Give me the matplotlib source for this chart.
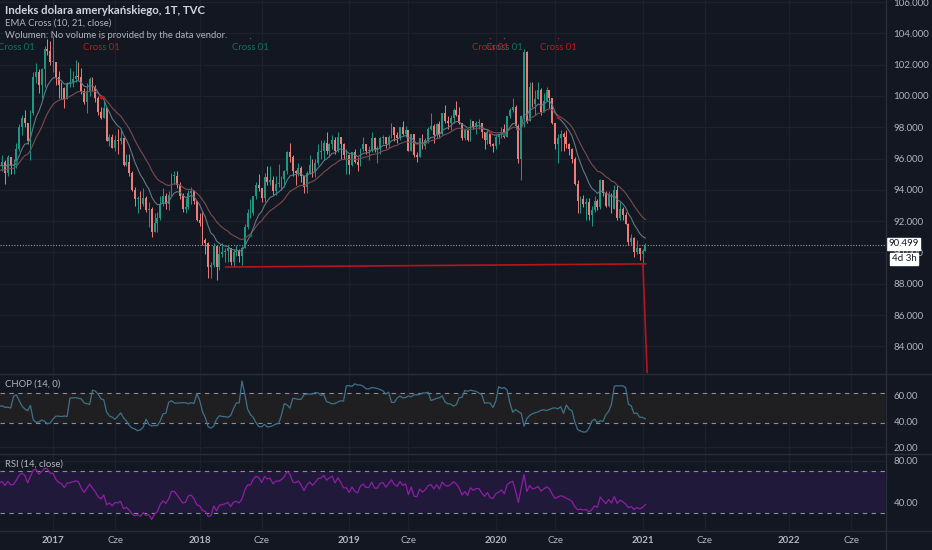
import numpy as np
import pandas as pd
import matplotlib
matplotlib.use('Agg')
import matplotlib.pyplot as plt
import matplotlib.dates as mdates
import matplotlib.transforms as mtrans
from matplotlib.lines import Line2D

plt.rcParams['font.family'] = ['Lato', 'DejaVu Sans']

# DXY (TVC), weekly candles, week starts on Monday.
# the first 20 weeks (Apr-Aug 2016) sit left of the visible window, only for EMA/RSI/CHOP warm-up
start_week = '2016-04-04'

opens = [
    94.6, 94.1, 94.6, 95.1, 93.1, 93.9, 94.6, 95.3, 95.5, 94.0, 94.6, 93.7, 95.5, 95.6, 96.3, 96.6, 97.5, 95.5, 96.2, 95.7,
    94.5, 95.5, 95.8, 95.1, 96.1, 95.5, 95.6, 96.6, 98.0, 98.6, 98.3, 97.1, 98.9, 101.2, 101.5, 100.7, 101.7, 103.0, 102.9,
    102.2, 102.2, 101.2, 100.7, 100.5, 99.8, 100.8, 100.9, 101.1, 101.3, 101.2, 100.3, 99.6, 100.3, 101.1, 100.5, 99.9, 99.0,
    98.6, 99.2, 97.1, 97.4, 96.7, 97.2, 97.1, 97.3, 95.6, 95.8, 95.1, 94.0, 93.4, 93.5, 93.1, 93.5, 92.7, 92.8, 91.3, 91.9,
    92.2, 93.1, 93.6, 93.1, 93.7, 94.9, 94.9, 94.3, 93.6, 92.8, 92.9, 93.8, 93.9, 93.3,
    92.1, 91.9, 90.8, 90.6, 89.1, 89.2, 90.4, 89.1, 89.9, 90.0, 90.1, 90.3, 89.4, 90.0, 90.1, 89.8, 90.3, 91.6, 92.5, 92.5,
    93.6, 94.3, 94.1, 93.5, 94.8, 94.5, 94.6, 93.9, 94.4, 94.4, 94.7, 95.2, 96.4, 96.1, 95.2, 95.1, 95.4, 94.9, 94.2, 95.1,
    95.6, 95.2, 95.7, 96.4, 96.5, 97.0, 96.5, 96.9, 97.2, 96.5, 97.4, 96.9, 96.2,
    96.2, 95.6, 96.4, 95.8, 95.6, 96.6, 96.9, 96.5, 96.5, 97.3, 96.6, 96.6, 97.3, 97.4, 96.9, 97.4, 98.0, 97.5, 97.3, 98.0,
    97.6, 97.8, 96.5, 97.6, 96.2, 96.1, 97.3, 96.8, 97.2, 97.9, 98.1, 97.5, 98.2, 97.6, 98.9, 98.4, 98.3, 98.6, 99.1, 98.8,
    98.3, 97.3, 97.8, 97.2, 98.4, 98.0, 98.3, 98.3, 97.7, 97.2, 97.7, 96.9,
    96.8, 97.4, 97.6, 97.9, 97.4, 98.7, 99.1, 99.3, 98.1, 96.0, 98.7, 102.8, 98.4, 100.6, 99.5, 99.8, 100.4, 99.0, 99.7, 100.4,
    99.9, 98.3, 96.9, 97.3, 97.6, 97.4, 96.9, 96.6, 96.0, 94.4, 93.3, 93.4, 93.1, 93.2, 92.4, 92.7, 93.3, 92.9, 94.6, 93.8,
    93.0, 93.7, 92.8, 94.0, 92.2, 92.8, 92.4, 91.8, 90.7, 90.9, 90.0, 90.3,
    89.9, 90.1,
]
highs = [
    95.0, 94.9, 95.2, 95.2, 94.0, 94.8, 95.5, 95.8, 96.0, 94.6, 95.2, 96.7, 96.2, 96.6, 96.8, 97.6, 97.6, 96.3, 96.3, 95.8,
    95.9, 96.2, 95.9, 96.2, 96.1, 96.0, 97.0, 98.2, 98.8, 99.1, 98.3, 99.1, 101.5, 102.1, 101.7, 101.8, 103.2, 103.65, 103.5,
    103.8, 102.2, 101.6, 100.9, 100.6, 100.9, 101.8, 101.6, 102.3, 102.2, 101.8, 100.5, 100.8, 101.2, 101.2, 100.7, 100.0,
    99.3, 99.7, 99.3, 97.6, 97.6, 97.5, 97.9, 97.8, 97.4, 96.3, 96.3, 95.2, 94.2, 93.6, 93.9, 94.1, 93.6, 93.2, 92.9, 92.5,
    92.6, 93.6, 94.1, 93.8, 93.9, 95.1, 95.2, 95.2, 94.5, 93.8, 93.5, 94.0, 94.2, 94.0, 93.3,
    92.5, 92.6, 90.9, 90.7, 89.4, 90.6, 90.4, 90.4, 90.6, 90.3, 90.4, 90.3, 90.2, 90.5, 90.2, 90.4, 91.8, 92.8, 93.4, 93.6,
    94.5, 95.0, 94.1, 95.1, 95.5, 95.5, 94.9, 94.9, 95.65, 94.9, 95.3, 96.5, 96.99, 96.2, 95.3, 95.7, 95.5, 94.9, 95.2, 96.2,
    96.0, 96.0, 96.9, 97.2, 97.2, 97.7, 97.0, 97.5, 97.4, 97.7, 97.4, 97.0, 96.6,
    96.3, 96.4, 96.6, 96.1, 96.7, 97.4, 96.9, 96.8, 97.7, 97.4, 96.8, 97.4, 97.5, 97.4, 97.5, 98.3, 98.0, 97.7, 98.0, 98.4,
    98.1, 97.8, 97.6, 97.6, 96.4, 97.3, 97.6, 97.3, 98.0, 98.9, 98.2, 98.3, 98.4, 98.9, 99.4, 98.7, 98.8, 99.2, 99.7, 99.3,
    98.3, 97.9, 97.9, 98.5, 98.4, 98.4, 98.5, 98.3, 97.7, 97.8, 97.7, 97.0,
    97.6, 97.6, 98.0, 98.2, 98.7, 99.2, 99.9, 99.4, 98.2, 98.8, 103.0, 102.9, 100.9, 100.9, 100.4, 100.9, 100.5, 100.2, 100.6, 100.4,
    99.9, 98.3, 97.6, 97.8, 97.7, 97.8, 97.0, 96.7, 96.1, 94.6, 93.6, 93.7, 93.5, 93.5, 93.0, 93.6, 93.4, 94.7, 94.6, 93.9,
    93.9, 93.8, 94.3, 94.3, 93.2, 92.9, 92.6, 91.9, 91.2, 91.0, 90.8, 90.3,
    90.2, 90.6,
]
lows = [
    93.9, 93.8, 93.9, 93.0, 91.9, 93.6, 94.4, 95.0, 93.8, 93.4, 93.7, 91.9, 95.2, 95.5, 95.9, 96.5, 95.5, 95.2, 95.5, 93.9,
    94.3, 95.2, 94.4, 94.9, 95.0, 95.0, 95.4, 96.5, 97.5, 98.0, 96.9, 95.9, 98.8, 100.8, 100.2, 99.9, 100.6, 102.6, 102.0,
    101.5, 100.7, 99.9, 99.8, 99.2, 99.8, 100.6, 100.6, 100.9, 101.0, 100.1, 99.5, 98.9, 100.0, 100.3, 99.6, 98.8,
    98.5, 98.6, 97.1, 96.8, 96.7, 96.5, 96.3, 96.9, 95.5, 95.5, 94.9, 93.9, 93.0, 92.5, 92.8, 93.0, 92.6, 91.6, 91.0, 91.3,
    91.3, 92.1, 93.0, 92.8, 92.7, 93.6, 94.4, 94.1, 93.4, 92.6, 92.5, 92.8, 93.1, 93.1, 92.0,
    91.7, 90.5, 89.9, 88.4, 88.4, 89.1, 88.25, 88.9, 89.7, 89.4, 89.4, 89.2, 89.1, 89.8, 89.4, 89.2, 90.3, 91.5, 92.2, 92.4,
    93.4, 93.9, 93.2, 93.2, 94.3, 94.3, 93.7, 93.7, 94.2, 94.0, 94.2, 95.0, 95.8, 94.9, 94.3, 94.9, 94.5, 93.8, 93.8, 95.0,
    94.8, 94.8, 95.6, 96.0, 95.9, 96.3, 96.1, 96.6, 96.3, 96.4, 96.0, 96.0, 95.0,
    95.0, 95.5, 95.7, 95.2, 95.5, 96.5, 96.3, 95.9, 96.4, 96.4, 95.7, 96.3, 96.9, 96.7, 96.7, 97.3, 97.1, 97.0, 97.2, 97.5,
    97.4, 96.5, 96.5, 96.1, 95.8, 96.1, 96.6, 96.6, 97.0, 97.8, 97.0, 97.3, 97.4, 97.5, 98.3, 97.9, 97.8, 98.3, 98.7, 98.2,
    97.2, 97.2, 97.1, 97.1, 97.9, 97.6, 97.9, 97.3, 96.6, 96.9, 96.8, 96.4,
    96.6, 96.9, 97.3, 97.3, 97.4, 98.6, 99.0, 97.9, 95.7, 94.6, 98.0, 98.3, 98.4, 99.3, 98.8, 99.8, 98.8, 99.0, 99.7, 99.2,
    98.2, 96.6, 95.7, 96.5, 96.5, 96.7, 96.2, 95.7, 94.3, 92.5, 92.5, 92.9, 92.1, 92.1, 91.7, 92.6, 92.7, 92.8, 93.6, 92.9,
    92.9, 92.5, 92.8, 92.1, 92.1, 92.1, 91.8, 90.5, 90.5, 89.7, 89.9, 89.5,
    89.2, 90.1,
]
closes = [
    94.1, 94.6, 95.1, 93.1, 93.9, 94.6, 95.3, 95.5, 94.0, 94.6, 93.7, 95.5, 95.6, 96.3, 96.6, 97.5, 95.5, 96.2, 95.7, 94.5,
    95.5, 95.8, 95.1, 96.1, 95.5, 95.6, 96.6, 98.0, 98.6, 98.3, 97.1, 98.9, 101.2, 101.5, 100.7, 101.7, 103.0, 102.9, 102.2,
    102.2, 101.2, 100.7, 100.5, 99.8, 100.8, 100.9, 101.1, 101.3, 101.2, 100.3, 99.6, 100.3, 101.1, 100.5, 99.9, 99.0,
    98.6, 99.2, 97.1, 97.4, 96.7, 97.2, 97.1, 97.3, 95.6, 95.8, 95.1, 94.0, 93.4, 93.5, 93.1, 93.5, 92.7, 92.8, 91.3, 91.9,
    92.2, 93.1, 93.6, 93.1, 93.7, 94.9, 94.9, 94.3, 93.6, 92.8, 92.9, 93.8, 93.9, 93.3, 92.1,
    91.9, 90.8, 90.6, 89.1, 89.2, 90.4, 89.1, 89.9, 90.0, 90.1, 90.3, 89.4, 90.0, 90.1, 89.8, 90.3, 91.6, 92.5, 92.5, 93.6,
    94.3, 94.1, 93.5, 94.8, 94.5, 94.6, 93.9, 94.4, 94.4, 94.7, 95.2, 96.4, 96.1, 95.2, 95.1, 95.4, 94.9, 94.2, 95.1, 95.6,
    95.2, 95.7, 96.4, 96.5, 97.0, 96.5, 96.9, 97.2, 96.5, 97.4, 96.9, 96.2, 96.2,
    95.6, 96.4, 95.8, 95.6, 96.6, 96.9, 96.5, 96.5, 97.3, 96.6, 96.6, 97.3, 97.4, 96.9, 97.4, 98.0, 97.5, 97.3, 98.0, 97.6,
    97.8, 96.5, 97.6, 96.2, 96.1, 97.3, 96.8, 97.2, 97.9, 98.1, 97.5, 98.2, 97.6, 98.9, 98.4, 98.3, 98.6, 99.1, 98.8, 98.3,
    97.3, 97.8, 97.2, 98.4, 98.0, 98.3, 98.3, 97.7, 97.2, 97.7, 96.9, 96.8,
    97.4, 97.6, 97.9, 97.4, 98.7, 99.1, 99.3, 98.1, 96.0, 98.7, 102.8, 98.4, 100.6, 99.5, 99.8, 100.4, 99.0, 99.7, 100.4, 99.9,
    98.3, 96.9, 97.3, 97.6, 97.4, 96.9, 96.6, 96.0, 94.4, 93.3, 93.4, 93.1, 93.2, 92.4, 92.7, 93.3, 92.9, 94.6, 93.8, 93.0,
    93.7, 92.8, 94.0, 92.2, 92.8, 92.4, 91.8, 90.7, 90.9, 90.0, 90.3, 89.9,
    90.1, 90.499,
]
time_left = '4d 3h'

# EMA Cross signals (week of the cross, True = fast EMA crosses up)
cross_weeks = ['2016-10-03', '2017-05-01', '2018-05-07', '2019-12-23', '2020-01-27', '2020-06-08']
cross_up = [True, False, True, False, True, False]

# hand drawn lines on the chart (date, price)
support_dates = ['2018-03-07', '2021-01-12']
support_prices = [89.07, 89.27]
drop_dates = ['2021-01-05', '2021-01-16']
drop_prices = [89.27, 82.0]

# time axis labels (first weekly bar of January / June)
tick_weeks = ['2017-01-02', '2017-06-05', '2018-01-01', '2018-06-04', '2019-01-07', '2019-06-03',
              '2020-01-06', '2020-06-01', '2021-01-04', '2021-06-07', '2022-01-03', '2022-06-06']
tick_names = ['2017', 'Cze', '2018', 'Cze', '2019', 'Cze', '2020', 'Cze', '2021', 'Cze', '2022', 'Cze']

price_ticks = [84, 86, 88, 90, 92, 94, 96, 98, 100, 102, 104, 106]
chop_ticks = [20, 40, 60]
rsi_ticks = [40, 80]

# colours
bg = '#131722'
grid_c = '#1d212c'
sep_c = '#2a2e39'
txt_c = '#b2b5be'
up_c = '#1f9783'
dn_c = '#ee7c78'

o = np.array(opens)
h = np.array(highs)
l = np.array(lows)
c = np.array(closes)
dates = pd.date_range(start_week, periods=len(c), freq='7D')
xd = mdates.date2num(dates)

# indicators
cs = pd.Series(c)
ema_fast = cs.ewm(span=10, adjust=False).mean().values
ema_slow = cs.ewm(span=21, adjust=False).mean().values

delta = cs.diff()
gain = delta.clip(lower=0).ewm(alpha=1 / 14, adjust=False).mean()
loss = (-delta.clip(upper=0)).ewm(alpha=1 / 14, adjust=False).mean()
rsi = (100 - 100 / (1 + gain / loss)).values

prev_c = cs.shift(1)
tr = pd.concat([pd.Series(h - l), (pd.Series(h) - prev_c).abs(), (pd.Series(l) - prev_c).abs()], axis=1).max(axis=1)
rng = pd.Series(h).rolling(14).max() - pd.Series(l).rolling(14).min()
chop = (100 * np.log10(tr.rolling(14).sum() / rng) / np.log10(14)).values

# figure, pixel layout of the TradingView screenshot
W, H = 932, 550
fig = plt.figure(figsize=(W / 100, H / 100), dpi=100, facecolor=bg)


def pane(top, bottom):
    return fig.add_axes([0, 1 - bottom / H, 885 / W, (bottom - top) / H])


ax_p = pane(0, 373)
ax_c = pane(374, 453)
ax_r = pane(454, 530)

d0 = mdates.date2num(pd.Timestamp('2017-01-02'))
d1 = mdates.date2num(pd.Timestamp('2021-01-04'))
ppd = (642.5 - 53) / (d1 - d0)
x_left = d0 - 53 / ppd
x_right = x_left + 885 / ppd
tick_x = mdates.date2num(pd.to_datetime(tick_weeks))

for ax in (ax_p, ax_c, ax_r):
    ax.set_facecolor(bg)
    for s in ax.spines.values():
        s.set_visible(False)
    ax.set_xlim(x_left, x_right)
    ax.set_xticks(tick_x)
    ax.yaxis.tick_right()
    ax.tick_params(axis='y', length=0, pad=6, labelsize=7.0, labelcolor=txt_c)
    ax.tick_params(axis='x', length=0)
    ax.grid(True, color=grid_c, lw=1)
    ax.set_axisbelow(True)

ax_p.tick_params(axis='x', labelbottom=False)
ax_c.tick_params(axis='x', labelbottom=False)

# price pane
ax_p.set_ylim(82.30, 106.13)
ax_p.set_yticks(price_ticks)
ax_p.set_yticklabels([f'{t:.3f}' for t in price_ticks])

col = np.where(c >= o, up_c, dn_c)
ax_p.vlines(xd, l, h, colors=col, lw=0.7, zorder=2)
body = np.maximum(np.abs(c - o), 0.05)
ax_p.bar(xd, body, bottom=np.minimum(o, c), width=4.6, color=col, linewidth=0, zorder=3)

ax_p.plot(xd, ema_slow, color='#7a4c50', lw=0.8, zorder=4)
ax_p.plot(xd, ema_fast, color='#5f7a84', lw=0.8, zorder=4)

# cross markers and labels
lab_tr = mtrans.blended_transform_factory(ax_p.transData, ax_p.transAxes)
for wk, is_up in zip(cross_weeks, cross_up):
    i = int(np.argmin(np.abs(xd - mdates.date2num(pd.Timestamp(wk)))))
    cc = '#17705f' if is_up else '#c2161e'
    ax_p.plot(xd[i], ema_fast[i], 'o', ms=2.6, color=cc, mec='none', zorder=5)
    ax_p.plot(xd[i], 0.899, 's', ms=1.0, color=cc, mec='none', transform=lab_tr, zorder=5)
    ax_p.text(xd[i], 0.873, 'Cross 01', color=cc, fontsize=6.8, ha='center', va='center',
              transform=lab_tr, zorder=5)

# support line and the drop drawn by the author
sx = mdates.date2num(pd.to_datetime(support_dates))
dx = mdates.date2num(pd.to_datetime(drop_dates))
ax_p.plot(sx, support_prices, color='#b8141c', lw=1.2, zorder=6)
ax_p.plot(dx, drop_prices, color='#b8141c', lw=1.2, zorder=6)

# last price line and tags
last = c[-1]
ax_p.axhline(last, color='#9598a1', lw=0.8, ls=(0, (1, 1.5)), zorder=1)
ax_p.annotate(f'{last:.3f}', xy=(1, last), xycoords=('axes fraction', 'data'), xytext=(2.5, 0.8),
              textcoords='offset points', ha='left', va='center', fontsize=7.0, color=bg,
              annotation_clip=False,
              bbox=dict(boxstyle='square,pad=0.15', fc='white', ec='white'))
ax_p.annotate(time_left, xy=(1, last), xycoords=('axes fraction', 'data'), xytext=(5, -10.2),
              textcoords='offset points', ha='left', va='center', fontsize=7.0, color=bg,
              annotation_clip=False,
              bbox=dict(boxstyle='square,pad=0.15', fc='white', ec='white'))

# CHOP pane
ax_c.set_ylim(15.4, 76.15)
ax_c.set_yticks(chop_ticks)
ax_c.set_yticklabels([f'{t:.2f}' for t in chop_ticks])
ax_c.axhspan(38.2, 61.8, color='#1f1f22', lw=0, zorder=1)
for v in (38.2, 61.8):
    ax_c.axhline(v, color='#8a8d96', lw=0.8, ls=(0, (4, 4)), zorder=2)
ax_c.plot(xd, chop, color='#3e7189', lw=0.9, zorder=3)

# RSI pane
ax_r.set_ylim(13.33, 86.67)
ax_r.set_yticks(rsi_ticks)
ax_r.set_yticklabels([f'{t:.2f}' for t in rsi_ticks])
ax_r.axhspan(30, 70, color='#21193a', lw=0, zorder=1)
for v in (30, 70):
    ax_r.axhline(v, color='#8a8d96', lw=0.8, ls=(0, (4, 4)), zorder=2)
ax_r.plot(xd, rsi, color='#8e1fa4', lw=0.9, zorder=3)

ax_r.set_xticklabels(tick_names)
ax_r.tick_params(axis='x', pad=4, labelsize=7.0, labelcolor=txt_c)
for t in ax_r.get_xticklabels():
    if t.get_text() != 'Cze':
        t.set_fontweight('bold')

# legend texts
def fy(y):
    return 1 - y / H


fig.text(5 / W, fy(11), 'Indeks dolara amerykańskiego, 1T, TVC', color='#d1d4dc', fontsize=8.2,
         fontweight='bold', va='center')
fig.text(5 / W, fy(23), 'EMA Cross (10, 21, close)', color=txt_c, fontsize=6.8, va='center')
fig.text(5 / W, fy(35), 'Wolumen: No volume is provided by the data vendor.', color=txt_c, fontsize=6.8,
         va='center')
fig.text(5 / W, fy(384), 'CHOP (14, 0)', color=txt_c, fontsize=6.8, va='center')
fig.text(5 / W, fy(464), 'RSI (14, close)', color=txt_c, fontsize=6.8, va='center')

# pane separators and price scale border
for y in (373.5, 453.5, 530.5):
    fig.add_artist(Line2D([0, 1], [fy(y), fy(y)], transform=fig.transFigure, color=sep_c, lw=1))
fig.add_artist(Line2D([885.5 / W, 885.5 / W], [0, 1], transform=fig.transFigure, color=sep_c, lw=1))

fig.savefig('out.png', dpi=100, facecolor=bg)
